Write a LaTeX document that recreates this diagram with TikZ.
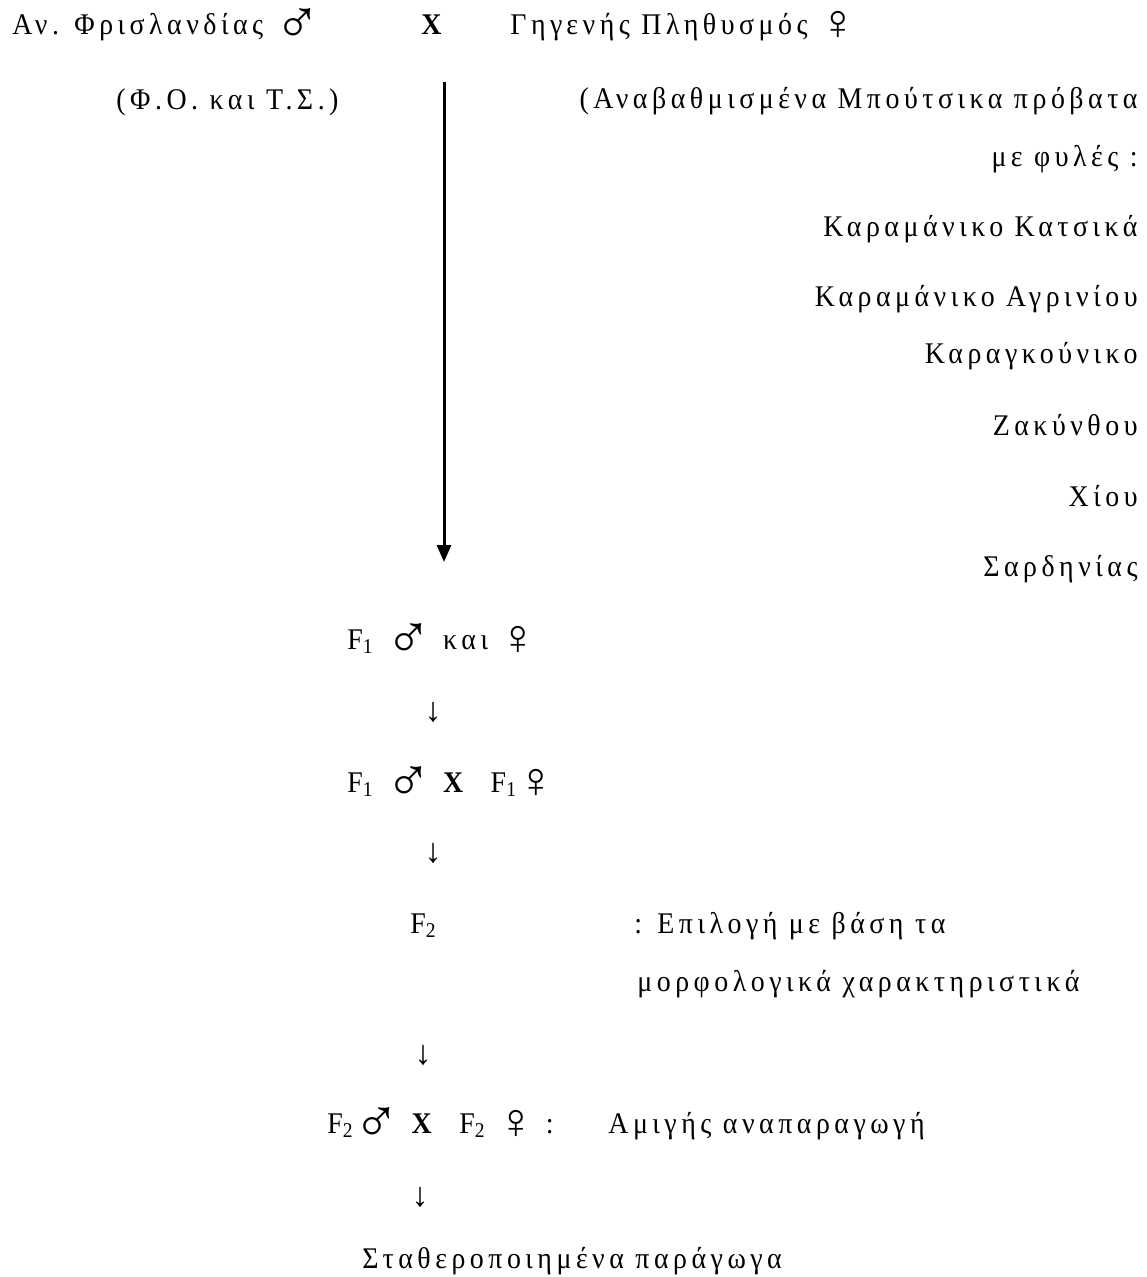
\documentclass[tikz,border=0pt]{standalone}
\usepackage{fontspec}
\setmainfont{Liberation Serif}
\newfontfamily\grfont[LetterSpace=15,FakeStretch=0.93]{Liberation Serif}
\newfontfamily\symfont{Liberation Serif}
\newcommand\msym{\smash{\raisebox{-4.5pt}{\scalebox{2}{\symfont\fontsize{15.5}{16}\selectfont ♂}}}}
\newcommand\fsym{\smash{\raisebox{-2.5pt}{\scalebox{2}{\symfont\fontsize{12.5}{13}\selectfont ♀}}}}
\usetikzlibrary{positioning,arrows.meta}

\begin{document}
\begin{tikzpicture}[x=0.5pt,y=-0.5pt,
    txt/.style={inner sep=0pt, font=\fontsize{15}{18}\selectfont\grfont},
    lft/.style={txt, anchor=base west},
    rgt/.style={txt, anchor=base east},
    dn/.style={inner sep=0pt, anchor=center, font=\fontsize{17}{18}\selectfont}]
  \useasboundingbox[fill=white] (0,0) rectangle (1146,1277);

  \node[lft] (frisian) at (12,35) {Αν. Φρισλανδίας \msym};
  \node[lft] (cross) at (421,35) {\textbf{X}};
  \node[lft] (native) at (510,35) {Γηγενής Πληθυσμός \fsym};
  \node[lft] (foto) at (116,110) {(Φ.Ο. και Τ.Σ.)};

  \node[rgt] (boutsiko) at (1138,109) {(Αναβαθμισμένα Μπούτσικα πρόβατα};
  \node[rgt] (fyles) at (1138,167) {με φυλές :};
  \node[rgt] (katsika) at (1138,237) {Καραμάνικο Κατσικά};
  \node[rgt] (agriniou) at (1138,307) {Καραμάνικο Αγρινίου};
  \node[rgt] (karagk) at (1138,364) {Καραγκούνικο};
  \node[rgt] (zakyn) at (1138,436) {Ζακύνθου};
  \node[rgt] (chiou) at (1138,507) {Χίου};
  \node[rgt] (sardin) at (1138,576) {Σαρδηνίας};

  \coordinate (lnstart) at (444,82);
  \coordinate (lnend) at (444,562);
  \draw[line width=1.5pt, -{Triangle[length=8.5pt,width=7pt]}] (lnstart) -- (lnend);

  \node[lft] (fone) at (347,649) {F\textsubscript{1} \msym\ και \fsym};
  \node[dn] (dnone) at (433,712) {↓};
  \node[lft] (fonecross) at (347,792) {F\textsubscript{1} \msym\ \textbf{X} \ F\textsubscript{1}\fsym};
  \node[dn] (dntwo) at (433,853) {↓};
  \node[lft] (ftwo) at (410,933) {F\textsubscript{2}};
  \node[lft] (select) at (634,933) {: Επιλογή με βάση τα};
  \node[lft] (morph) at (637,991) {μορφολογικά χαρακτηριστικά};
  \node[dn] (dnthree) at (423,1055) {↓};
  \node[lft] (ftwocross) at (327,1133) {F\textsubscript{2}\msym\ \textbf{X} \ F\textsubscript{2} \fsym{} :};
  \node[lft] (pure) at (608,1133) {Αμιγής αναπαραγωγή};
  \node[dn] (dnfour) at (420,1197) {↓};
  \node[lft] (stable) at (362,1268) {Σταθεροποιημένα παράγωγα};
\end{tikzpicture}
\end{document}
